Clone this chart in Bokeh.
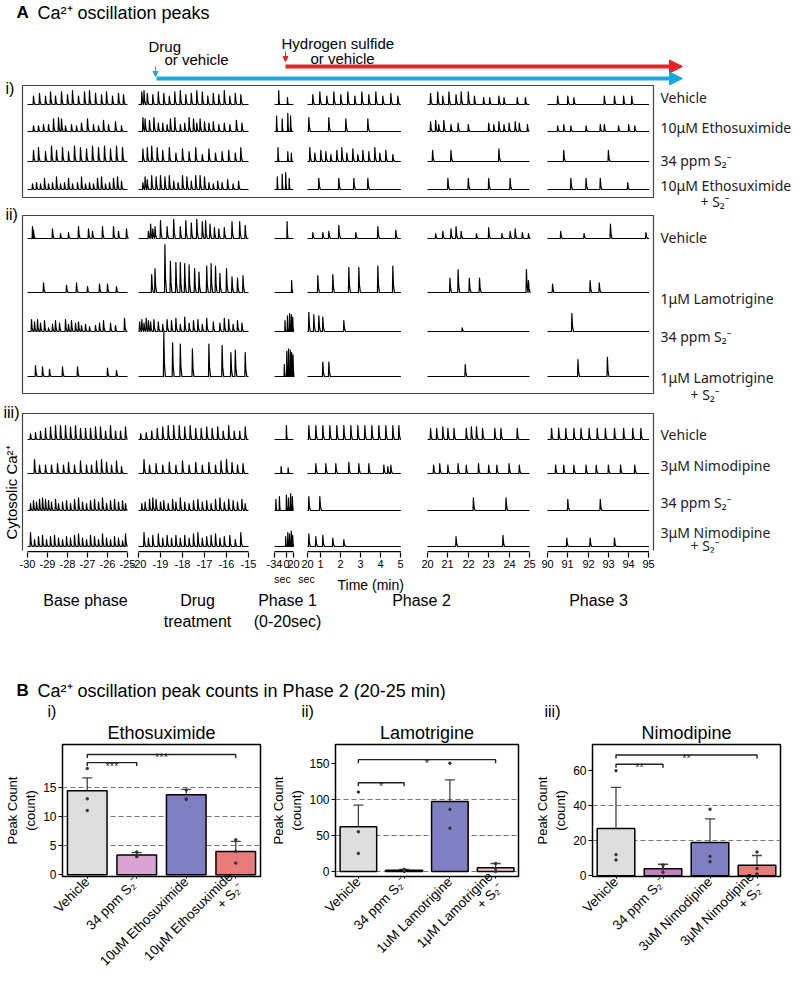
import math
from bokeh.plotting import figure
from bokeh.models import (Range1d, FactorRange, ColumnDataSource, FixedTicker, Title,
                          Whisker, TeeHead, Arrow, NormalHead)
from bokeh.layouts import column, row
from bokeh.embed import file_html
from bokeh.resources import INLINE
from bokeh.core.properties import value

# ============================ DATA ============================
# time windows (minutes; phase 1 in seconds)
SEG_ORDER = ["base", "drug", "p1", "p2a", "p2b", "p3"]
SEG_START = {"base": -30, "drug": -20, "p1": -34, "p2a": 1/3, "p2b": 20, "p3": 90}
SEG_END = {"base": -25, "drug": -15, "p1": 20, "p2a": 5, "p2b": 25, "p3": 95}

TICKS_BASE = [-30, -29, -28, -27, -26, -25]
TICKS_DRUG = [-20, -19, -18, -17, -16, -15]
TICKS_P1 = [-34, 0, 20]
TICKS_P2A = [1/3, 1, 2, 3, 4, 5]
TICK_LABELS_P2A = ["20", "1", "2", "3", "4", "5"]
TICKS_P2B = [20, 21, 22, 23, 24, 25]
TICKS_P3 = [90, 91, 92, 93, 94, 95]

# ---- traces: per row, six windows of (peak times, peak amplitudes) ----
E_VEH = [
    ([-29.7, -29.4, -29.1, -28.85, -28.6, -28.3, -28.0, -27.75, -27.45, -27.15, -26.9, -26.6, -26.3, -26.05, -25.75, -25.45, -25.2],
     [0.6, 0.8, 0.6, 0.9, 0.6, 0.9, 0.7, 1.0, 0.6, 0.9, 1.0, 0.8, 0.7, 0.9, 0.6, 0.8, 0.7]),
    ([-19.85, -19.75, -19.6, -19.35, -19.1, -18.85, -18.6, -18.35, -18.1, -17.85, -17.6, -17.35, -17.1, -16.85, -16.6, -16.35, -16.1, -15.85, -15.6, -15.35],
     [0.9, 1.0, 0.8, 0.7, 0.9, 0.8, 0.6, 0.9, 1.0, 0.7, 0.8, 1.0, 0.9, 0.6, 0.8, 0.7, 1.0, 0.6, 0.8, 0.7]),
    ([-22, 3], [1.0, 0.5]),
    ([0.6, 0.95, 1.3, 1.65, 2.0, 2.35, 2.7, 3.05, 3.4, 3.75, 4.1, 4.5, 4.85],
     [0.7, 0.9, 0.6, 0.9, 0.7, 0.9, 0.6, 0.9, 0.7, 0.9, 0.6, 0.8, 0.6]),
    ([20.15, 20.5, 20.75, 21.05, 21.4, 21.65, 22.0, 22.3, 22.75, 23.05, 23.5, 23.75, 24.4, 24.8],
     [0.8, 0.9, 0.6, 0.9, 0.7, 0.9, 0.9, 0.6, 0.5, 0.5, 0.6, 0.5, 0.5, 0.5]),
    ([90.5, 91.0, 91.3, 92.8, 93.3, 93.75, 94.15], [0.6, 0.6, 0.5, 0.6, 0.6, 0.6, 0.6]),
]
E_ETH = [
    ([-29.7, -29.45, -29.2, -28.95, -28.7, -28.45, -28.3, -28.1, -27.8, -27.55, -27.3, -27.0, -26.7, -26.45, -26.2, -25.95, -25.6, -25.3],
     [0.4, 0.4, 0.5, 0.5, 0.9, 1.0, 0.9, 0.4, 0.5, 0.4, 0.6, 0.9, 0.5, 0.4, 0.8, 0.5, 0.7, 0.4]),
    ([-19.8, -19.7, -19.5, -19.3, -19.1, -18.9, -18.7, -18.55, -18.35, -18.1, -17.9, -17.7, -17.5, -17.35, -17.2, -17.0, -16.8, -16.6, -16.35, -16.1, -15.85, -15.55, -15.3],
     [1.0, 0.9, 0.8, 1.0, 0.6, 0.6, 0.5, 0.9, 1.0, 0.5, 0.6, 1.0, 0.9, 0.6, 0.9, 0.7, 0.6, 0.7, 0.5, 0.6, 0.5, 0.8, 0.6]),
    ([-28, -12, 4, 12], [1.1, 0.9, 1.3, 1.1]),
    ([0.4, 1.4, 2.25, 3.35], [1.0, 1.0, 0.9, 0.9]),
    ([20.15, 20.4, 20.55, 20.8, 21.15, 21.5, 22.0, 23.0, 23.25, 23.5, 23.75, 24.0, 24.3, 24.5, 24.9],
     [0.7, 0.8, 0.5, 0.8, 0.5, 0.6, 0.5, 0.6, 0.5, 0.7, 0.5, 0.6, 0.7, 0.6, 0.5]),
    ([90.5, 90.8, 91.15, 91.9, 92.6, 92.8, 93.5, 94.0, 94.3], [0.4, 0.5, 0.4, 0.4, 0.5, 0.5, 0.4, 0.5, 0.4]),
]
E_S2 = [
    ([-29.7, -29.45, -29.1, -28.8, -28.55, -28.25, -27.95, -27.65, -27.35, -27.05, -26.75, -26.45, -26.15, -25.85, -25.55, -25.25],
     [0.8, 1.0, 0.7, 1.1, 0.8, 1.0, 0.7, 1.1, 1.0, 0.9, 1.1, 1.0, 1.1, 0.9, 1.1, 1.0]),
    ([-19.8, -19.6, -19.4, -19.15, -18.9, -18.6, -18.3, -18.0, -17.7, -17.4, -17.1, -16.8, -16.5, -16.2, -15.9, -15.6, -15.35],
     [0.9, 1.0, 1.1, 1.0, 0.8, 1.0, 0.6, 0.9, 0.7, 1.0, 0.5, 0.9, 0.6, 0.7, 0.8, 0.6, 1.0]),
    ([-24, 4, 14], [1.0, 0.7, 0.6]),
    ([0.45, 0.7, 1.0, 1.25, 1.5, 1.8, 2.05, 2.3, 2.6, 2.85, 3.1, 3.4, 3.7, 3.95, 4.25, 4.6],
     [1.0, 0.6, 0.8, 0.7, 0.5, 0.8, 1.0, 0.6, 0.9, 0.5, 0.8, 0.7, 1.0, 0.6, 0.8, 0.5]),
    ([20.25, 21.15, 23.5], [0.8, 0.8, 0.9]),
    ([90.8, 93.0], [0.8, 0.8]),
]
E_ES = [
    ([-29.75, -29.55, -29.35, -29.15, -28.95, -28.75, -28.55, -28.35, -28.15, -27.95, -27.75, -27.5, -27.3, -27.1, -26.9, -26.7, -26.5, -26.3, -26.1, -25.9, -25.7, -25.5, -25.3],
     [0.4, 0.5, 0.4, 0.8, 0.4, 0.5, 0.9, 0.4, 0.5, 0.8, 0.4, 0.5, 0.9, 0.4, 0.5, 0.4, 0.8, 0.9, 0.4, 0.5, 0.8, 0.9, 0.6]),
    ([-19.8, -19.7, -19.6, -19.4, -19.2, -19.0, -18.8, -18.6, -18.4, -18.2, -18.0, -17.8, -17.6, -17.4, -17.2, -17.0, -16.8, -16.6, -16.4, -16.2, -15.95, -15.7, -15.45],
     [0.5, 0.9, 0.7, 1.0, 0.9, 1.0, 0.9, 1.0, 0.6, 0.5, 1.0, 0.9, 0.6, 1.0, 1.0, 0.9, 0.5, 0.4, 0.6, 0.5, 0.7, 0.4, 0.6]),
    ([-26, -12, -2, 8], [0.9, 1.1, 1.2, 0.8]),
    ([0.9, 1.9, 2.65, 3.35], [0.8, 0.8, 0.8, 0.8]),
    ([21.0, 22.0, 23.0, 24.05], [0.8, 0.8, 0.8, 0.8]),
    ([91.15, 91.9, 92.6, 93.95], [0.8, 0.8, 0.8, 0.5]),
]

L_VEH = [
    ([-29.75, -29.7, -28.75, -28.35, -27.95, -27.45, -26.95, -26.75, -26.25, -25.7, -25.45, -25.05],
     [1.0, 0.7, 0.8, 0.4, 0.5, 1.0, 0.8, 0.6, 1.0, 1.0, 0.6, 0.8]),
    ([-19.55, -19.45, -19.35, -19.25, -19.0, -18.7, -18.4, -18.1, -17.85, -17.6, -17.35, -17.1, -16.95, -16.75, -16.55, -16.35, -16.1, -15.75, -15.4, -15.15],
     [0.6, 1.2, 0.8, 1.0, 1.5, 1.0, 1.6, 1.0, 1.5, 1.3, 1.6, 1.4, 1.5, 1.2, 0.9, 0.8, 0.9, 1.4, 1.4, 1.1]),
    ([2], [1.4]),
    ([0.6, 1.1, 1.4, 1.9, 2.75, 3.85, 4.75], [0.5, 0.5, 0.6, 1.1, 0.5, 1.0, 0.7]),
    ([20.4, 20.75, 21.15, 21.4, 21.65, 22.4, 23.0, 23.65, 24.05, 24.3, 24.65, 24.95],
     [0.4, 0.6, 0.8, 1.0, 0.6, 0.4, 0.9, 0.4, 0.6, 0.8, 0.5, 0.4]),
    ([90.65, 91.8, 93.1, 94.85], [0.6, 0.4, 1.2, 0.5]),
]
L_LAM = [
    ([-29.2, -28.05, -27.55, -27.0, -26.4, -26.0, -25.55], [0.8, 0.6, 0.8, 0.5, 0.7, 0.7, 0.5]),
    ([-19.4, -19.25, -18.8, -18.55, -18.3, -18.1, -17.9, -17.7, -17.45, -17.25, -16.9, -16.7, -16.5, -16.3, -16.0, -15.75, -15.5, -15.25],
     [1.5, 2.0, 4.0, 2.6, 2.5, 2.5, 2.4, 2.3, 2.0, 1.7, 2.2, 2.4, 2.2, 1.6, 2.0, 1.3, 1.2, 1.4]),
    ([15], [1.0]),
    ([0.85, 1.6, 2.4, 2.9, 3.85, 4.6], [1.4, 1.5, 2.1, 2.1, 2.2, 2.2]),
    ([21.1, 21.5, 22.05, 22.55, 24.85, 24.95], [1.2, 1.9, 1.2, 1.2, 1.9, 1.0]),
    ([90.25, 92.1, 92.55], [0.7, 1.0, 0.8]),
]
L_S2 = [
    ([-29.8, -29.65, -29.5, -29.35, -29.15, -28.95, -28.75, -28.6, -28.4, -28.1, -27.95, -27.8, -27.6, -27.45, -27.3, -27.1, -26.9, -26.6, -26.4, -26.2, -25.85, -25.6, -25.15],
     [1.0, 0.8, 1.0, 0.7, 0.9, 0.3, 0.6, 0.9, 0.7, 1.0, 0.6, 0.9, 0.7, 0.8, 0.5, 0.6, 0.4, 0.5, 0.7, 0.9, 0.7, 0.5, 1.1]),
    ([-19.95, -19.85, -19.75, -19.65, -19.55, -19.45, -19.3, -19.1, -18.9, -18.7, -18.5, -18.3, -18.1, -17.9, -17.7, -17.5, -17.3, -17.1, -16.9, -16.6, -16.3, -16.1, -15.9, -15.7, -15.5, -15.3],
     [0.8, 1.0, 0.7, 1.1, 0.9, 0.8, 1.0, 0.8, 0.6, 1.0, 0.9, 1.1, 0.6, 1.2, 0.7, 0.9, 1.0, 0.6, 1.1, 0.8, 0.7, 1.1, 1.0, 0.6, 0.9, 0.7]),
    ([-4, 3, 9, 14, 18], [0.9, 1.3, 1.5, 1.4, 1.2]),
    ([0.4, 0.65, 0.9, 1.1, 2.15], [1.6, 1.4, 1.3, 1.2, 0.9]),
    ([21.7], [0.3]),
    ([91.2], [1.5]),
]
L_LS = [
    ([-29.6, -29.25, -28.9, -28.25, -27.5, -26.0, -25.55], [0.9, 0.8, 0.6, 0.8, 0.8, 0.7, 0.5]),
    ([-18.85, -18.45, -18.1, -17.55, -16.8, -16.2, -15.8, -15.6, -15.15], [3.7, 2.8, 2.7, 2.3, 2.7, 2.6, 2.0, 2.2, 2.0]),
    ([-6, 1, 6, 11, 15, 19], [1.0, 2.1, 2.3, 2.2, 2.0, 1.8]),
    ([1.1, 1.4], [1.2, 1.2]),
    ([21.85], [1.0]),
    ([91.5, 92.95], [1.4, 1.6]),
]

N_VEH = [
    ([-29.85, -29.6, -29.35, -29.1, -28.85, -28.6, -28.35, -28.1, -27.85, -27.6, -27.35, -27.1, -26.85, -26.6, -26.35, -26.1, -25.85, -25.6, -25.35, -25.1],
     [0.4, 0.5, 0.6, 0.8, 0.9, 1.0, 1.0, 1.0, 0.9, 1.0, 0.8, 0.8, 0.8, 0.9, 0.9, 0.6, 1.0, 0.6, 0.6, 0.9]),
    ([-19.9, -19.65, -19.4, -19.15, -18.9, -18.65, -18.4, -18.15, -17.9, -17.65, -17.4, -17.15, -16.9, -16.65, -16.4, -16.15, -15.9, -15.65, -15.4, -15.15],
     [0.4, 0.5, 0.6, 0.8, 0.9, 1.0, 1.0, 1.0, 0.9, 1.0, 0.8, 0.8, 0.9, 0.8, 0.9, 0.6, 1.0, 0.6, 0.6, 0.9]),
    ([0], [1.0]),
    ([0.4, 0.75, 1.1, 1.45, 1.8, 2.15, 2.5, 2.85, 3.2, 3.55, 3.9, 4.25, 4.6, 4.9],
     [1.0, 1.0, 1.0, 1.0, 1.0, 1.0, 1.0, 1.0, 1.0, 1.0, 1.0, 1.0, 1.0, 1.0]),
    ([20.15, 20.45, 20.75, 21.0, 21.3, 21.9, 22.15, 22.4, 22.7, 23.3, 23.6, 24.4],
     [0.8, 0.8, 0.9, 0.8, 0.8, 0.8, 0.9, 0.9, 0.8, 0.8, 0.8, 0.8]),
    ([90.2, 90.55, 90.9, 91.3, 91.65, 92.05, 92.45, 92.85, 93.3, 93.75, 94.2, 94.6],
     [0.8, 0.8, 0.8, 0.8, 0.8, 0.8, 0.8, 0.8, 0.8, 0.8, 0.8, 0.8]),
]
N_NIM = [
    ([-29.65, -29.4, -29.1, -28.8, -28.5, -28.2, -27.95, -27.65, -27.35, -27.05, -26.8, -26.55, -26.3, -26.05, -25.8, -25.55, -25.3],
     [1.0, 0.6, 0.6, 0.6, 0.7, 0.6, 0.8, 0.6, 0.9, 0.6, 0.6, 0.9, 1.0, 0.8, 0.6, 0.9, 0.5]),
    ([-19.75, -19.5, -19.2, -18.9, -18.6, -18.3, -18.0, -17.7, -17.4, -17.1, -16.8, -16.5, -16.25, -16.0, -15.75, -15.5, -15.25],
     [1.0, 0.6, 0.7, 0.6, 0.8, 0.6, 0.9, 0.6, 0.8, 0.6, 0.8, 0.6, 0.9, 1.0, 0.8, 0.6, 0.7]),
    ([-15, 5], [0.5, 0.4]),
    ([0.75, 1.25, 1.75, 2.4, 2.9, 3.4, 4.15, 4.35, 4.5], [0.7, 0.7, 0.7, 0.8, 0.7, 0.7, 0.6, 0.5, 0.6]),
    ([20.3, 20.6, 21.0, 21.5, 21.9, 22.5, 23.0, 23.4, 24.0, 24.5], [0.6, 0.7, 0.6, 0.7, 0.6, 0.7, 0.6, 0.6, 0.7, 0.6]),
    ([90.4, 90.8, 91.3, 91.9, 92.4, 93.0, 93.6, 94.3], [0.6, 0.6, 0.6, 0.6, 0.6, 0.6, 0.6, 0.6]),
]
N_S2 = [
    ([-29.85, -29.7, -29.55, -29.4, -29.25, -29.1, -28.95, -28.8, -28.6, -28.45, -28.25, -28.05, -27.85, -27.65, -27.45, -27.25, -27.05, -26.85, -26.65, -26.45, -26.25, -26.05, -25.85, -25.65, -25.45, -25.25, -25.1],
     [0.5, 0.7, 0.6, 0.8, 0.9, 0.8, 0.7, 0.6, 0.8, 0.5, 0.6, 0.7, 0.5, 0.8, 0.9, 0.6, 0.5, 0.7, 0.8, 0.6, 0.9, 0.5, 0.7, 0.8, 0.6, 0.7, 0.5]),
    ([-19.85, -19.7, -19.5, -19.35, -19.2, -19.0, -18.85, -18.65, -18.45, -18.3, -18.1, -17.9, -17.7, -17.5, -17.3, -17.1, -16.9, -16.7, -16.5, -16.3, -16.1, -15.9, -15.7, -15.5, -15.3, -15.15],
     [0.5, 0.6, 0.8, 0.9, 0.8, 0.6, 0.7, 0.5, 0.8, 0.6, 0.9, 0.6, 0.5, 0.7, 0.8, 0.6, 0.7, 0.5, 0.8, 0.9, 0.6, 0.8, 0.7, 0.6, 0.8, 0.5]),
    ([-30, -20, 0, 6, 12, 17], [0.8, 1.0, 1.1, 0.9, 1.2, 1.0]),
    ([0.4, 0.95], [1.0, 1.0]),
    ([22.25, 23.85], [0.9, 0.9]),
    ([91.0, 92.6], [0.8, 0.8]),
]
N_NS = [
    ([-29.85, -29.65, -29.45, -29.25, -29.05, -28.85, -28.65, -28.45, -28.25, -28.05, -27.85, -27.65, -27.45, -27.25, -27.05, -26.85, -26.65, -26.45, -26.25, -26.05, -25.85, -25.65, -25.45, -25.25, -25.1],
     [1.0, 0.5, 0.7, 0.8, 0.5, 0.7, 0.8, 0.6, 0.5, 0.7, 0.6, 0.8, 0.9, 0.6, 0.5, 0.8, 0.7, 0.5, 0.9, 0.6, 0.5, 0.7, 0.6, 0.4, 0.9]),
    ([-19.75, -19.55, -19.35, -19.1, -18.9, -18.7, -18.5, -18.3, -18.1, -17.9, -17.7, -17.5, -17.3, -17.1, -16.9, -16.7, -16.5, -16.3, -16.1, -15.85, -15.6, -15.35],
     [1.0, 0.6, 0.8, 0.9, 0.6, 0.8, 0.6, 0.8, 0.6, 0.8, 0.6, 0.9, 1.0, 0.6, 0.7, 0.8, 0.9, 0.6, 0.7, 0.8, 0.5, 1.0]),
    ([-2, 4, 9, 14, 18], [0.7, 1.0, 0.9, 1.1, 0.8]),
    ([0.4, 0.75, 1.1, 1.6, 2.15], [0.9, 0.7, 0.8, 0.6, 0.5]),
    ([21.4, 23.7], [0.7, 0.8]),
    ([90.95, 92.1, 93.3], [0.6, 0.6, 0.6]),
]

ETHO_ROWS = [E_VEH, E_ETH, E_S2, E_ES]
LAMO_ROWS = [L_VEH, L_LAM, L_S2, L_LS]
NIMO_ROWS = [N_VEH, N_NIM, N_S2, N_NS]
ETHO_NAMES = ["Vehicle", "10μM Ethosuximide", "34 ppm S₂⁻", "10μM Ethosuximide"]
LAMO_NAMES = ["Vehicle", "1μM Lamotrigine", "34 ppm S₂⁻", "1μM Lamotrigine"]
NIMO_NAMES = ["Vehicle", "3μM Nimodipine", "34 ppm S₂⁻", "3μM Nimodipine"]

# ---- panel B: peak counts in phase 2 ----
ETHO_GROUPS = ["Vehicle", "34 ppm S₂⁻", "10uM Ethosuximide", "10μM Ethosuximide\n+ S₂⁻"]
ETHO_MEAN = [14.4, 3.4, 13.7, 4.0]
ETHO_LO = [12.1, 3.0, 12.9, 2.3]
ETHO_HI = [16.6, 3.8, 14.6, 5.7]
ETHO_PTS = [[18.2, 13.0, 11.0], [3.9, 3.2, 3.1], [14.5, 13.0, 12.9], [6.0, 4.0, 2.0]]
ETHO_SIG = [(0, 1, 19.2, "***"), (0, 3, 20.6, "***")]

LAMO_GROUPS = ["Vehicle", "34 ppm S₂⁻", "1uM Lamotrigine", "1μM Lamotrigine\n+ S₂⁻"]
LAMO_MEAN = [62, 1.5, 97, 5]
LAMO_LO = [31, 0, 67, 0]
LAMO_HI = [92, 3, 127, 11]
LAMO_PTS = [[110, 55, 25], [3, 1, 0], [150, 86, 60], [11, 4, 0]]
LAMO_SIG = [(0, 1, 123, "*"), (0, 3, 155, "*")]

NIMO_GROUPS = ["Vehicle", "34 ppm S₂⁻", "3uM Nimodipine", "3μM Nimodipine\n+ S₂⁻"]
NIMO_MEAN = [27, 4, 19, 6]
NIMO_LO = [3.5, 2, 5.5, 0.5]
NIMO_HI = [50.5, 6.5, 32.5, 11.5]
NIMO_PTS = [[60, 12, 9], [6, 4, 2], [38, 11, 8], [13.5, 4, 1]]
NIMO_SIG = [(0, 1, 63.7, "**"), (0, 3, 69, "**")]

# ============================ LAYOUT / STYLE ============================
SEG_X0 = {"base": 27, "drug": 138, "p1": 274, "p2a": 307, "p2b": 427, "p3": 547}
SEG_K = {"base": 20.0, "drug": 22.0, "p1": 0.35, "p2a": 20.0, "p2b": 20.4, "p3": 20.3}
FONT = value("Liberation Sans")
FONT2 = value("Noto Sans")


def seg_x(seg, t):
    return SEG_X0[seg] + (t - SEG_START[seg]) * SEG_K[seg]


def build_traces(rows, baselines, scale):
    xs, ys = [], []
    for rdata, base in zip(rows, baselines):
        for seg, (times, amps) in zip(SEG_ORDER, rdata):
            shape = (0.25, 0.35, 0.9) if seg == "p1" else (0.4, 0.6, 1.6)
            x = [seg_x(seg, SEG_START[seg])]
            y = [base]
            for t, a in sorted(zip(times, amps)):
                px = seg_x(seg, t)
                x += [px - shape[0], px, px + shape[1], px + shape[2]]
                y += [base, base - a * scale, base - 0.3 * a * scale, base]
            x.append(seg_x(seg, SEG_END[seg]))
            y.append(base)
            xs.append(x)
            ys.append(y)
    return xs, ys


pa = figure(width=792, height=572, x_range=Range1d(0, 792), y_range=Range1d(552, 0),
            output_backend="svg", toolbar_location=None, y_axis_location=None,
            min_border_left=0, min_border_right=0, min_border_top=0, min_border_bottom=20)
pa.outline_line_color = None
pa.grid.visible = False

# bottom broken time axis
tick_pos, tick_lab = [], {}
for seg, ticks, labels in [("base", TICKS_BASE, [str(t) for t in TICKS_BASE]),
                           ("drug", TICKS_DRUG, [str(t) for t in TICKS_DRUG]),
                           ("p1", TICKS_P1, [str(t) for t in TICKS_P1]),
                           ("p2a", TICKS_P2A, TICK_LABELS_P2A),
                           ("p2b", TICKS_P2B, [str(t) for t in TICKS_P2B]),
                           ("p3", TICKS_P3, [str(t) for t in TICKS_P3])]:
    for t, lab in zip(ticks, labels):
        pos = int(round(seg_x(seg, t)))
        tick_pos.append(pos)
        tick_lab[pos] = lab
ax = pa.xaxis[0]
ax.ticker = FixedTicker(ticks=tick_pos)
ax.major_label_overrides = tick_lab
ax.axis_line_color = None
ax.major_tick_out = 5
ax.major_tick_in = 0
ax.major_tick_line_width = 1.2
ax.major_label_standoff = 2
ax.major_label_text_font_size = "11px"
ax.major_label_text_font = "Liberation Sans"
ax.major_label_text_color = "black"

seg_src = ColumnDataSource(dict(
    x0=[seg_x(s, SEG_START[s]) for s in SEG_ORDER],
    x1=[seg_x(s, SEG_END[s]) for s in SEG_ORDER],
    y=[551.2] * 6))
pa.segment(x0="x0", x1="x1", y0="y", y1="y", source=seg_src, line_color="black", line_width=1.6)

# boxes
BOX_L, BOX_R = 22, 653
pa.multi_line(xs=[[BOX_L, BOX_R, BOX_R, BOX_L, BOX_L], [BOX_L, BOX_R, BOX_R, BOX_L, BOX_L],
                  [BOX_L, BOX_L, BOX_R, BOX_R]],
              ys=[[85, 85, 197, 197, 85], [215, 215, 393, 393, 215], [550, 413, 413, 550]],
              line_color="#444444", line_width=1.2)

# traces
for rows, bases, sc in [(ETHO_ROWS, [104, 131, 161, 189], 14),
                        (LAMO_ROWS, [238, 292, 331, 376], 12),
                        (NIMO_ROWS, [439, 473, 510, 546], 14)]:
    xs, ys = build_traces(rows, bases, sc)
    pa.multi_line(xs=xs, ys=ys, line_color="black", line_width=1.2, line_join="round")

# row names
name_x, name_y, name_t = [], [], []
for names, ypos in [(ETHO_NAMES, [97, 127, 160, 185]),
                    (LAMO_NAMES, [237, 298, 336, 377]),
                    (NIMO_NAMES, [434, 465, 502, 532])]:
    for n, yy in zip(names, ypos):
        name_x.append(660); name_y.append(yy); name_t.append(n)
for xx, yy in [(700, 201), (690, 394), (690, 545)]:
    name_x.append(xx); name_y.append(yy); name_t.append("+ S₂⁻")
pa.text(x=name_x, y=name_y, text=name_t, text_font=FONT2, text_font_size="14px",
        text_baseline="middle", text_align="left", text_color="#222222")

# box tags
pa.text(x=[5, 5, 3], y=[88, 214, 412], text=["i)", "ii)", "iii)"], text_font=FONT,
        text_font_size="16px", text_baseline="middle", text_color="black")

# panel title
pa.text(x=[16], y=[12], text=["A"], text_font=FONT, text_font_size="17px",
        text_font_style="bold", text_baseline="middle")
pa.text(x=[37], y=[12], text=["Ca²⁺ oscillation peaks"], text_font=FONT, text_font_size="18px",
        text_baseline="middle")

# treatment annotations
pa.text(x=[148, 164, 281, 310], y=[46, 59, 43, 58],
        text=["Drug", "or vehicle", "Hydrogen sulfide", "or vehicle"],
        text_font=FONT, text_font_size="15px", text_baseline="middle")
pa.add_layout(Arrow(x_start=285, y_start=66, x_end=682, y_end=66, line_color="#e4242b", line_width=4,
                    end=NormalHead(size=13, fill_color="#e4242b", line_color="#e4242b")))
pa.add_layout(Arrow(x_start=156, y_start=78, x_end=682, y_end=78, line_color="#1aa7e0", line_width=4,
                    end=NormalHead(size=13, fill_color="#1aa7e0", line_color="#1aa7e0")))
pa.add_layout(Arrow(x_start=285, y_start=51, x_end=285, y_end=61, line_color="#e4242b", line_width=1,
                    end=NormalHead(size=5, fill_color="#e4242b", line_color="#e4242b")))
pa.add_layout(Arrow(x_start=155, y_start=66, x_end=155, y_end=76, line_color="#1aa7e0", line_width=1,
                    end=NormalHead(size=5, fill_color="#1aa7e0", line_color="#1aa7e0")))

# y label
pa.text(x=[11], y=[492], text=["Cytosolic Ca²⁺"], angle=math.pi / 2, text_font=FONT,
        text_font_size="15px", text_align="center", text_baseline="middle")

# ---------------- text strip below axis ----------------
pt = figure(width=792, height=128, x_range=Range1d(0, 792), y_range=Range1d(700, 572),
            output_backend="svg", toolbar_location=None, x_axis_location=None, y_axis_location=None,
            min_border=0)
pt.outline_line_color = None
pt.grid.visible = False
pt.text(x=[282, 306], y=[578, 578], text=["sec", "sec"], text_font=FONT, text_font_size="10.5px",
        text_align="center", text_baseline="middle")
pt.text(x=[337], y=[584], text=["Time (min)"], text_font=FONT, text_font_size="14px",
        text_align="left", text_baseline="middle")
pt.text(x=[85, 197, 197, 287, 287, 421, 598], y=[600, 600, 621, 600, 621, 600, 600],
        text=["Base phase", "Drug", "treatment", "Phase 1", "(0-20sec)", "Phase 2", "Phase 3"],
        text_font=FONT, text_font_size="16px", text_align="center", text_baseline="middle")
pt.text(x=[16], y=[690], text=["B"], text_font=FONT, text_font_size="17px",
        text_font_style="bold", text_baseline="middle")
pt.text(x=[37], y=[690], text=["Ca²⁺ oscillation peak counts in Phase 2 (20-25 min)"], text_font=FONT,
        text_font_size="18px", text_baseline="middle")


# ---------------- bar charts ----------------
def bar_chart(groups, mean, lo, hi, pts, sig, colors, name, tag, yticks, gticks, yr,
              width, left, right, drop, tag_off):
    p = figure(width=width, height=287, x_range=FactorRange(*groups), y_range=Range1d(*yr),
               output_backend="svg", toolbar_location=None,
               min_border_left=left, min_border_right=right, min_border_top=44, min_border_bottom=108)
    p.title.visible = False
    p.add_layout(Title(text=name, align="center", text_font_size="18px", text_font="Liberation Sans",
                       text_font_style="normal", text_color="black", standoff=3), "above")
    p.add_layout(Title(text=tag, align="left", offset=tag_off, text_font_size="16px",
                       text_font="Liberation Sans", text_font_style="normal", text_color="black",
                       standoff=0), "above")
    src = ColumnDataSource(dict(x=groups, top=mean, lo=lo, hi=hi, color=colors))
    p.vbar(x="x", top="top", bottom=0, width=0.8, source=src, fill_color="color",
           line_color="black", line_width=1.5)
    p.add_layout(Whisker(base="x", upper="hi", lower="lo", source=src, line_color="#444444",
                         line_width=1.3,
                         upper_head=TeeHead(size=10, line_color="#444444", line_width=1.3),
                         lower_head=TeeHead(size=10, line_color="#444444", line_width=1.3)))
    px, py = [], []
    for g, vals in zip(groups, pts):
        for v in vals:
            px.append(g); py.append(v)
    p.scatter(x=px, y=py, size=2.5, color="#333333")
    bx, by, tx, ty, tt = [], [], [], [], []
    for a, b, yv, s in sig:
        bx.append([groups[a], groups[a], groups[b], groups[b]])
        by.append([yv - drop, yv, yv, yv - drop])
        tx.append((groups[a], (b - a) / 2.0))
        ty.append(yv)
        tt.append(s)
    p.multi_line(xs=bx, ys=by, line_color="#222222", line_width=1.4)
    p.text(x=tx, y=ty, text=tt, text_font=FONT, text_font_size="11px", text_align="center",
           text_baseline="alphabetic", y_offset=3, text_color="#222222")
    p.xgrid.visible = False
    p.ygrid.ticker = FixedTicker(ticks=gticks)
    p.ygrid.grid_line_dash = "5 3"
    p.ygrid.grid_line_color = "#777777"
    p.ygrid.grid_line_width = 1.2
    p.yaxis.ticker = FixedTicker(ticks=yticks)
    p.yaxis.axis_label = "Peak Count\n(count)"
    p.yaxis.axis_label_text_font = "Liberation Sans"
    p.yaxis.axis_label_text_font_style = "normal"
    p.yaxis.axis_label_text_font_size = "13px"
    p.yaxis.axis_label_text_color = "black"
    p.yaxis.axis_label_standoff = 2
    p.yaxis.major_label_standoff = 2
    p.yaxis.minor_tick_line_color = None
    p.axis.major_label_text_font = "Liberation Sans"
    p.axis.major_label_text_color = "black"
    p.yaxis.major_label_text_font_size = "12px"
    p.xaxis.major_label_text_font_size = "13.5px"
    p.xaxis.major_label_text_line_height = 1.0
    p.xaxis.major_label_standoff = 1
    p.xaxis.major_label_orientation = math.pi / 4
    p.axis.axis_line_color = None
    p.axis.major_tick_in = 0
    p.yaxis.major_tick_out = 4
    p.xaxis.major_tick_out = 2
    p.outline_line_color = "black"
    p.outline_line_width = 1.5
    return p


COLS_I = ["#dedede", "#d9a4d4", "#7f7fc2", "#ea7b7b"]
COLS_II = ["#dedede", "#d3a0d0", "#7f7fc2", "#f4cccb"]
COLS_III = ["#dedede", "#c57fc0", "#7f7fc2", "#ea7b7b"]

b1 = bar_chart(ETHO_GROUPS, ETHO_MEAN, ETHO_LO, ETHO_HI, ETHO_PTS, ETHO_SIG, COLS_I, "Ethosuximide", "i)",
               [0, 5, 10, 15], [5, 10, 15], (-0.3, 22.3), 268, 62, 8, 0.6, -15)
b2 = bar_chart(LAMO_GROUPS, LAMO_MEAN, LAMO_LO, LAMO_HI, LAMO_PTS, LAMO_SIG, COLS_II, "Lamotrigine", "ii)",
               [0, 50, 100, 150], [0, 50, 100], (-7, 176), 264, 50, 14, 5, -34)
b3 = bar_chart(NIMO_GROUPS, NIMO_MEAN, NIMO_LO, NIMO_HI, NIMO_PTS, NIMO_SIG, COLS_III, "Nimodipine", "iii)",
               [0, 20, 40, 60], [20, 40], (-0.5, 75), 260, 50, 12, 2, -48)

layout = column(pa, pt, row(b1, b2, b3))
open("out.html", "w").write(file_html(layout, INLINE))
